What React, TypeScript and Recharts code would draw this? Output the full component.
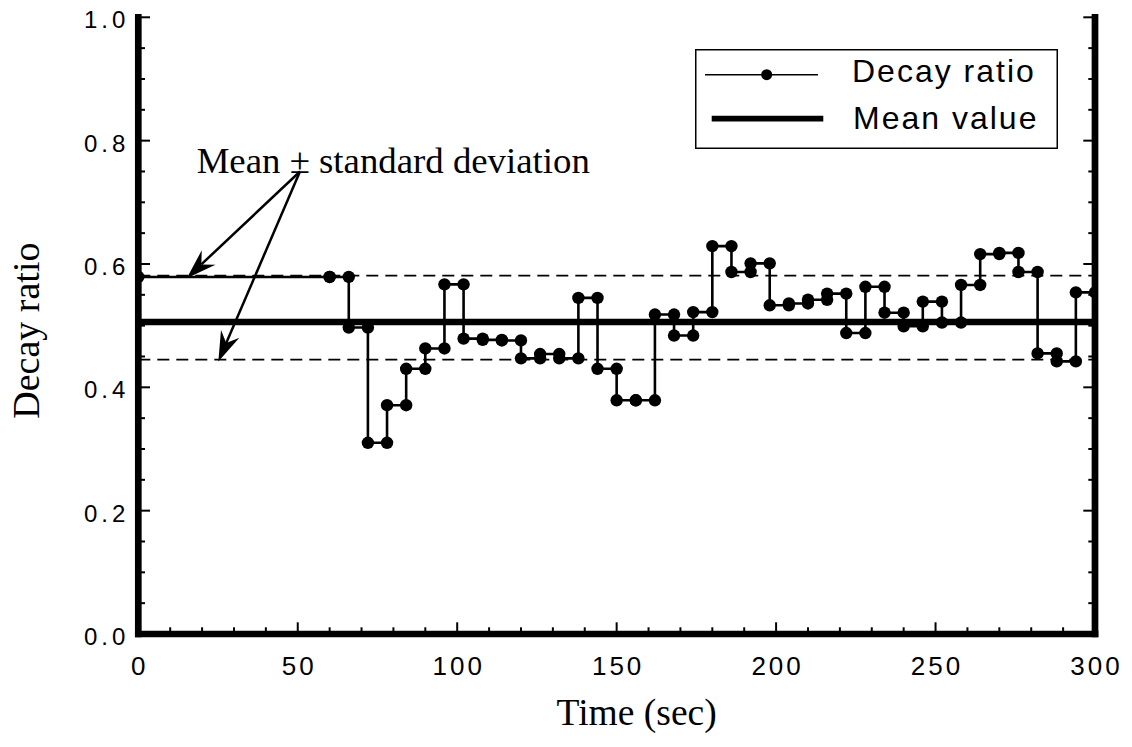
import React from 'react'
import { LineChart, Line, XAxis, YAxis, ReferenceLine, ReferenceDot, Legend } from 'recharts'

// each step of the decay ratio holds from its start time to the next start
const segmentStarts = [0, 60, 66, 72, 78, 84, 90, 96, 102, 108, 114, 120, 126, 132, 138, 144, 150, 156, 162, 168, 174, 180, 186, 192, 198, 204, 210, 216, 222, 228, 234, 240, 246, 252, 258, 264, 270, 276, 282, 288, 294]
const segmentEnd = 300
const decayRatios = [0.579, 0.579, 0.497, 0.310, 0.371, 0.430, 0.463, 0.567, 0.479, 0.477, 0.476, 0.447, 0.454, 0.447, 0.545, 0.430, 0.379, 0.379, 0.518, 0.484, 0.522, 0.629, 0.587, 0.601, 0.533, 0.536, 0.542, 0.552, 0.488, 0.563, 0.521, 0.499, 0.539, 0.505, 0.566, 0.616, 0.618, 0.587, 0.455, 0.442, 0.554]

const meanValue = 0.506
const upperBand = 0.581
const lowerBand = 0.445

const xTicks = [0, 10, 20, 30, 40, 50, 60, 70, 80, 90, 100, 110, 120, 130, 140, 150, 160, 170, 180, 190, 200, 210, 220, 230, 240, 250, 260, 270, 280, 290, 300]
const xLabels = [0, 50, 100, 150, 200, 250, 300]
const yTicks = [0, 0.05, 0.1, 0.15, 0.2, 0.25, 0.3, 0.35, 0.4, 0.45, 0.5, 0.55, 0.6, 0.65, 0.7, 0.75, 0.8, 0.85, 0.9, 0.95, 1.0]
const yLabels = [0, 0.2, 0.4, 0.6, 0.8, 1.0]

// arrow from the annotation to the two bands
const arrowFrom = { x: 50.7, y: 0.750 }
const arrowTips = [{ x: 15.2, y: 0.577 }, { x: 25.1, y: 0.442 }]
const noteAt = { x: 18.3, y: 0.748 }
const noteText = 'Mean \u00b1 standard deviation'

const points: { t: number; v: number }[] = []
segmentStarts.forEach((s, i) => {
  const e = i + 1 < segmentStarts.length ? segmentStarts[i + 1] : segmentEnd
  points.push({ t: s, v: decayRatios[i] })
  points.push({ t: e, v: decayRatios[i] })
})

const SANS = '"Liberation Sans", Arial, Helvetica, sans-serif'
const SERIF = '"Liberation Serif", "Times New Roman", serif'
const axisStyle = { stroke: '#000', strokeWidth: 6.7, strokeLinecap: 'square' as const }

const isLabel = (list: number[], v: number) => list.some(l => Math.abs(l - v) < 1e-6)

const BottomTick = (p: any) => {
  const major = isLabel(xLabels, p.payload.value)
  return (
    <g>
      <line x1={p.x} x2={p.x} y1={p.y} y2={p.y - (major ? 11.7 : 6.7)} stroke="#000" strokeWidth={2} />
      {major && (
        <text x={p.x + 1.5} y={p.y + 41} textAnchor="middle" fontSize={26} letterSpacing={3} fontFamily={SANS} fill="#000">
          {p.payload.value}
        </text>
      )}
    </g>
  )
}

const TopTick = (p: any) => {
  const major = isLabel(xLabels, p.payload.value)
  return <line x1={p.x} x2={p.x} y1={p.y} y2={p.y + (major ? 11.7 : 6.7)} stroke="#000" strokeWidth={2} />
}

const LeftTick = (p: any) => {
  const major = isLabel(yLabels, p.payload.value)
  return (
    <g>
      <line x1={p.x} x2={p.x + (major ? 11.7 : 6.7)} y1={p.y} y2={p.y} stroke="#000" strokeWidth={2} />
      {major && (
        <text x={p.x - 9} y={p.y + 11} textAnchor="end" fontSize={24} letterSpacing={4} fontFamily={SANS} fill="#000">
          {p.payload.value.toFixed(1)}
        </text>
      )}
    </g>
  )
}

const RightTick = (p: any) => {
  const major = isLabel(yLabels, p.payload.value)
  return <line x1={p.x} x2={p.x - (major ? 11.7 : 6.7)} y1={p.y} y2={p.y} stroke="#000" strokeWidth={2} />
}

const Arrow = (p: any) => {
  const { x1, y1, x2, y2 } = p
  const len = Math.hypot(x2 - x1, y2 - y1) || 1
  const ux = (x2 - x1) / len
  const uy = (y2 - y1) / len
  const nx = -uy
  const ny = ux
  const L = 30
  const W = 10
  const back = 20
  const head = [
    [x2, y2],
    [x2 - L * ux + W * nx, y2 - L * uy + W * ny],
    [x2 - back * ux, y2 - back * uy],
    [x2 - L * ux - W * nx, y2 - L * uy - W * ny],
  ].map(q => q.join(',')).join(' ')
  return (
    <g>
      <line x1={x1} y1={y1} x2={x2 - back * ux} y2={y2 - back * uy} stroke="#000" strokeWidth={2.5} />
      <polygon points={head} fill="#000" />
    </g>
  )
}

const LegendBox = () => (
  <svg width={363} height={100} style={{ display: 'block' }}>
    <rect x={0.75} y={0.75} width={361.5} height={98.5} fill="#fff" stroke="#000" strokeWidth={1.5} />
    <line x1={10} x2={123} y1={25.7} y2={25.7} stroke="#000" strokeWidth={1.6} />
    <circle cx={71.7} cy={25.7} r={5.5} fill="#000" />
    <text x={157} y={33} fontSize={32} letterSpacing={2} fontFamily={SANS} fill="#000">Decay ratio</text>
    <line x1={16.7} x2={128.3} y1={69.7} y2={69.7} stroke="#000" strokeWidth={5.7} />
    <text x={158} y={80} fontSize={32} letterSpacing={2} fontFamily={SANS} fill="#000">Mean value</text>
  </svg>
)

export default function App() {
  return (
    <div style={{ width: 1132, height: 747, margin: -8 }}>
      <LineChart width={1132} height={747} data={points} margin={{ top: 17.3, right: 0, bottom: 0, left: 0 }}>
        <XAxis
          xAxisId="b"
          dataKey="t"
          type="number"
          domain={[0, 300]}
          allowDataOverflow
          ticks={xTicks}
          interval={0}
          height={113}
          tickSize={0}
          tickMargin={0}
          tickLine={false}
          axisLine={axisStyle}
          tick={BottomTick}
          label={(props: any) => {
            const vb = props.viewBox
            return (
              <text x={vb.x + vb.width / 2 + 20} y={vb.y + 91} textAnchor="middle" fontSize={37.5} fontFamily={SERIF} fill="#000">
                Time (sec)
              </text>
            )
          }}
        />
        <XAxis
          xAxisId="t"
          orientation="top"
          type="number"
          domain={[0, 300]}
          allowDataOverflow
          ticks={xTicks}
          interval={0}
          height={0}
          tickSize={0}
          tickMargin={0}
          tickLine={false}
          axisLine={axisStyle}
          tick={TopTick}
        />
        <YAxis
          yAxisId="l"
          type="number"
          domain={[0, 1]}
          allowDataOverflow
          ticks={yTicks}
          interval={0}
          width={138.3}
          tickSize={0}
          tickMargin={0}
          tickLine={false}
          axisLine={axisStyle}
          tick={LeftTick}
          label={(props: any) => {
            const vb = props.viewBox
            const cy = vb.y + vb.height / 2 + 5
            return (
              <text x={39} y={cy} transform={`rotate(-90, 39, ${cy})`} textAnchor="middle" fontSize={38} fontFamily={SERIF} fill="#000">
                Decay ratio
              </text>
            )
          }}
        />
        <YAxis
          yAxisId="r"
          orientation="right"
          type="number"
          domain={[0, 1]}
          allowDataOverflow
          ticks={yTicks}
          interval={0}
          width={37}
          tickSize={0}
          tickMargin={0}
          tickLine={false}
          axisLine={axisStyle}
          tick={RightTick}
        />
        <ReferenceLine xAxisId="b" yAxisId="l" y={upperBand} stroke="#000" strokeWidth={1.8} strokeDasharray="12 7" />
        <ReferenceLine xAxisId="b" yAxisId="l" y={lowerBand} stroke="#000" strokeWidth={1.8} strokeDasharray="12 7" />
        <ReferenceLine xAxisId="b" yAxisId="l" y={meanValue} stroke="#000" strokeWidth={6.5} />
        {arrowTips.map((tip, i) => (
          <ReferenceLine key={i} xAxisId="b" yAxisId="l" segment={[arrowFrom, tip]} shape={Arrow} />
        ))}
        <ReferenceDot
          xAxisId="b"
          yAxisId="l"
          x={noteAt.x}
          y={noteAt.y}
          r={0}
          shape={(p: any) => (
            <text x={p.cx} y={p.cy} fontSize={36.8} fontFamily={SERIF} fill="#000">
              {noteText}
            </text>
          )}
        />
        <Line
          xAxisId="b"
          yAxisId="l"
          type="linear"
          dataKey="v"
          stroke="#000"
          strokeWidth={2.6}
          dot={{ r: 6.2, fill: '#000', stroke: 'none' }}
          activeDot={false}
          isAnimationActive={false}
        />
        <Legend
          layout="vertical"
          align="center"
          verticalAlign="middle"
          wrapperStyle={{ left: 695, top: 49.3, width: 363, height: 100 }}
          content={() => <LegendBox />}
        />
      </LineChart>
    </div>
  )
}
